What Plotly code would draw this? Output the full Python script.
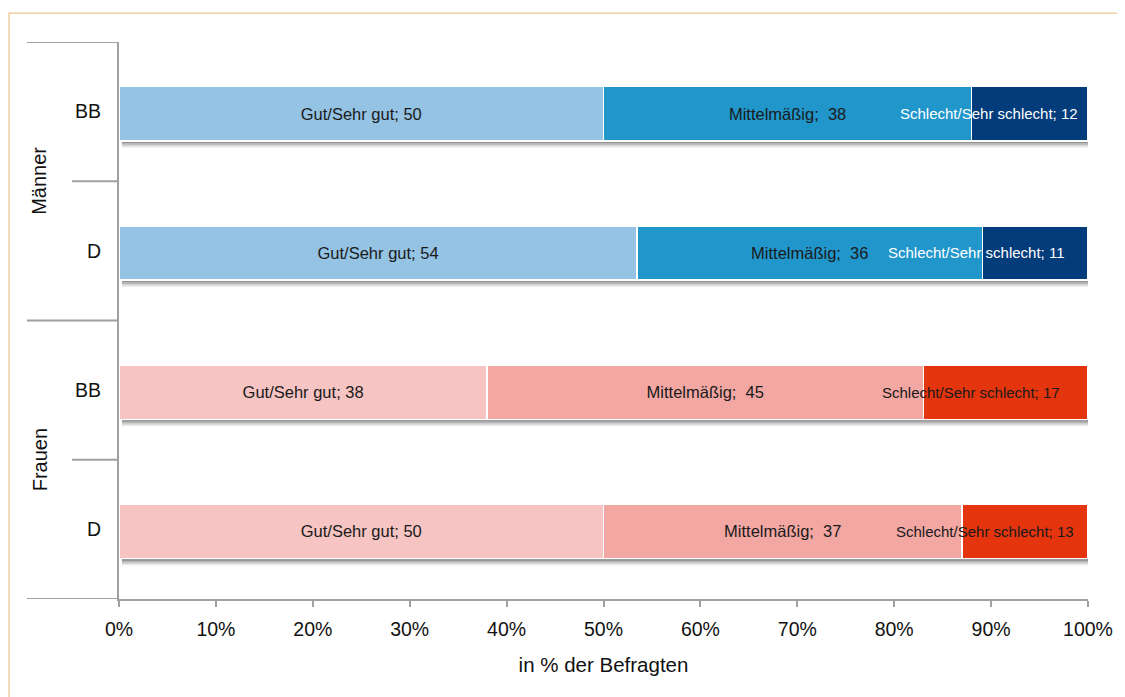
import plotly.graph_objects as go

# ---- data ----
groups = ["Männer", "Männer", "Frauen", "Frauen"]
regions = ["BB", "D", "BB", "D"]
gut = [50, 54, 38, 50]
mittel = [38, 36, 45, 37]
schlecht = [12, 11, 17, 13]
series_names = ["Gut/Sehr gut", "Mittelmäßig", "Schlecht/Sehr schlecht"]
tick_vals = [0, 10, 20, 30, 40, 50, 60, 70, 80, 90, 100]

# ---- styles ----
colors = {
    "Männer": ["#95C3E3", "#2196CB", "#023C7A"],
    "Frauen": ["#F6C4C2", "#F2A7A3", "#E4350F"],
}
schlecht_text_color = {"Männer": "white", "Frauen": "#1a1a1a"}
schlecht_xshift = [-41, -59, -35, -40]
FONT = "Liberation Sans, Arial, sans-serif"
BAR_W = 0.39
BAR_SHIFT = 0.015

ypos = list(range(len(regions)))
totals = [g + m + s for g, m, s in zip(gut, mittel, schlecht)]

fig = go.Figure()
for k, (name, vals) in enumerate(zip(series_names, [gut, mittel, schlecht])):
    if k < 2:
        sep = ";  " if k == 1 else "; "
        text = [f"{name}{sep}{v}" for v in vals]
        textpos = "inside"
    else:
        text = None
        textpos = "none"
    fig.add_trace(go.Bar(
        y=ypos, x=vals, orientation="h", name=name,
        width=BAR_W, offset=-BAR_W / 2 + BAR_SHIFT,
        marker=dict(color=[colors[g][k] for g in groups],
                    line=dict(color="white", width=1.5)),
        text=text, textposition=textpos, insidetextanchor="middle",
        constraintext="none",
        textfont=dict(family=FONT, size=16.5, color="#1a1a1a"),
        hoverinfo="skip", showlegend=False,
    ))

annotations = []
# Schlecht labels
for i in ypos:
    xc = (gut[i] + mittel[i] + schlecht[i] / 2) / totals[i] * 100
    annotations.append(dict(
        x=xc, y=i + BAR_SHIFT, xref="x", yref="y", showarrow=False,
        text=f"{series_names[2]}; {schlecht[i]}", xshift=schlecht_xshift[i],
        font=dict(family=FONT, size=15, color=schlecht_text_color[groups[i]]),
    ))
# group labels
uniq = []
for g in groups:
    if g not in uniq:
        uniq.append(g)
for g in uniq:
    idx = [i for i, gg in enumerate(groups) if gg == g]
    annotations.append(dict(
        x=-0.082, xref="paper", xanchor="center", yanchor="middle",
        y=sum(idx) / len(idx), yref="y",
        text=g, textangle=-90, showarrow=False,
        font=dict(family=FONT, size=20, color="#111"),
    ))

shapes = []
# drop shadows under bars
for i in ypos:
    base = i + BAR_SHIFT + BAR_W / 2 - 0.005
    for j, op in enumerate([0.75, 0.6, 0.42, 0.25, 0.1]):
        shapes.append(dict(
            type="rect", xref="x", yref="y", layer="below",
            x0=0.3, x1=100.5,
            y0=base + j * 0.011, y1=base + (j + 1) * 0.011,
            line=dict(width=0), fillcolor=f"rgba(80,80,80,{op})",
        ))
# group separators
n = len(groups)
for b in range(n):
    y_b = b - 0.5
    full = b == 0 or groups[b] != groups[b - 1]
    shapes.append(dict(
        type="line", xref="paper", yref="y",
        x0=-0.095 if full else -0.0485, x1=0, y0=y_b, y1=y_b,
        line=dict(color="#A0A0A0", width=2),
    ))
shapes.append(dict(
    type="line", xref="paper", yref="y", x0=-0.095, x1=0,
    y0=n - 0.5, y1=n - 0.5, line=dict(color="#A0A0A0", width=2),
))
# outer frame
shapes.append(dict(
    type="rect", xref="paper", yref="paper",
    x0=-0.1135, x1=1.06, y0=-0.2, y1=1.052,
    line=dict(color="#E9C38F", width=1.2), fillcolor="rgba(0,0,0,0)",
    layer="below",
))

fig.update_layout(
    barmode="stack", barnorm="percent",
    width=1125, height=697,
    margin=dict(l=111, r=45, t=34, b=106),
    paper_bgcolor="white", plot_bgcolor="white",
    font=dict(family=FONT, color="#111"),
    annotations=annotations, shapes=shapes,
    xaxis=dict(
        range=[0, 100], tickvals=tick_vals,
        ticktext=[f"{v}%" for v in tick_vals],
        showgrid=False, zeroline=False,
        showline=True, linecolor="#A0A0A0", linewidth=2,
        ticks="outside", ticklen=6, tickcolor="#A0A0A0", tickwidth=2,
        ticklabelstandoff=6,
        tickfont=dict(family=FONT, size=19.5, color="#111"),
        title=dict(text="in % der Befragten",
                   font=dict(family=FONT, size=20.5, color="#111"), standoff=18),
    ),
    yaxis=dict(
        range=[n - 0.5, -0.5], tickvals=ypos, ticktext=regions,
        showgrid=False, zeroline=False,
        showline=True, linecolor="#A0A0A0", linewidth=2,
        ticks="", ticklabelstandoff=12,
        tickfont=dict(family=FONT, size=19.5, color="#111"),
    ),
)

fig.write_html("out.html")
